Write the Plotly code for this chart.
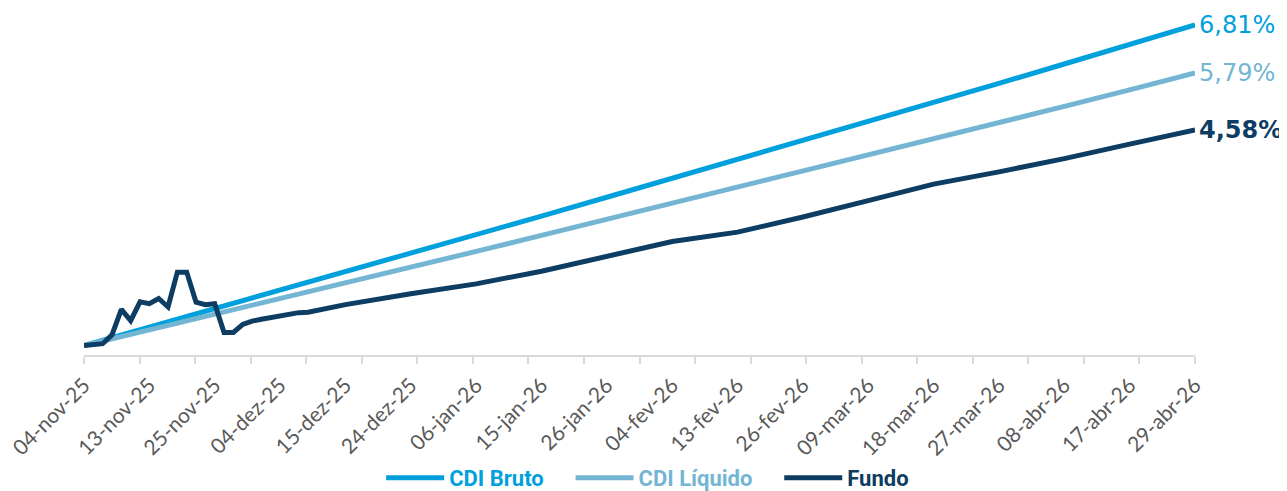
import pandas as pd
import plotly.graph_objects as go

# ---------------- data ----------------
holidays = ["2025-11-20", "2025-12-25", "2026-01-01", "2026-02-16",
            "2026-02-17", "2026-04-03", "2026-04-21"]
business_days = [d.strftime("%Y-%m-%d") for d in
                 pd.bdate_range("2025-11-04", "2026-04-29", freq="C", holidays=holidays)]

label_dates = ["2025-11-04", "2025-11-13", "2025-11-25", "2025-12-04", "2025-12-15",
               "2025-12-24", "2026-01-06", "2026-01-15", "2026-01-26", "2026-02-04",
               "2026-02-13", "2026-02-26", "2026-03-09", "2026-03-18", "2026-03-27",
               "2026-04-08", "2026-04-17", "2026-04-29"]
label_text = ["04-nov-25", "13-nov-25", "25-nov-25", "04-dez-25", "15-dez-25",
              "24-dez-25", "06-jan-26", "15-jan-26", "26-jan-26", "04-fev-26",
              "13-fev-26", "26-fev-26", "09-mar-26", "18-mar-26", "27-mar-26",
              "08-abr-26", "17-abr-26", "29-abr-26"]

cdi_bruto = [0.00, 0.39, 0.78, 1.17, 1.56, 1.96, 2.35, 2.75, 3.15, 3.55,
             3.95, 4.35, 4.76, 5.17, 5.57, 5.98, 6.39, 6.81]
cdi_liquido = [0.00, 0.33, 0.66, 0.99, 1.33, 1.66, 2.00, 2.34, 2.68, 3.02,
               3.36, 3.70, 4.04, 4.39, 4.74, 5.08, 5.43, 5.79]

fundo_dates = ["2025-11-04", "2025-11-05", "2025-11-06", "2025-11-07", "2025-11-10",
               "2025-11-11", "2025-11-12", "2025-11-13", "2025-11-14", "2025-11-17",
               "2025-11-18", "2025-11-19", "2025-11-21", "2025-11-24", "2025-11-25",
               "2025-11-26", "2025-11-27", "2025-11-28", "2025-12-01", "2025-12-02",
               "2025-12-03", "2025-12-04", "2025-12-05", "2025-12-08", "2025-12-09",
               "2025-12-15", "2025-12-24", "2026-01-06", "2026-01-15", "2026-01-26",
               "2026-02-04", "2026-02-13", "2026-02-26", "2026-03-09", "2026-03-18",
               "2026-03-27", "2026-04-08", "2026-04-17", "2026-04-29"]
fundo = [0.00, 0.02, 0.04, 0.23, 0.77, 0.53, 0.93, 0.89, 1.00, 0.82,
         1.56, 1.56, 0.92, 0.87, 0.89, 0.28, 0.28, 0.45, 0.52, 0.56,
         0.60, 0.63, 0.67, 0.70, 0.71, 0.87, 1.10, 1.31, 1.58, 1.89,
         2.21, 2.41, 2.73, 3.08, 3.43, 3.69, 3.97, 4.28, 4.58]

end_labels = ["6,81%", "5,79%", "4,58%"]

# ---------------- style ----------------
C_BRUTO = "#00a0dc"
C_LIQ = "#73b5d3"
C_FUNDO = "#0d3d62"
AXIS_GRAY = "#d9d9d9"
PAD = "&nbsp;" * 4

fig = go.Figure()
series = [
    ("CDI Bruto", label_dates, cdi_bruto, C_BRUTO, PAD),
    ("CDI Líquido", label_dates, cdi_liquido, C_LIQ, PAD),
    ("Fundo", fundo_dates, fundo, C_FUNDO, ""),
]
for name, xs, ys, col, pad in series:
    fig.add_trace(go.Scatter(
        x=xs, y=ys, mode="lines",
        name=f"<b><span style='color:{col}'>{name}</span></b>{pad}",
        line=dict(color=col, width=5),
        hoverinfo="x+y",
    ))

# end-of-line value labels
for (name, xs, ys, col, _), txt, bold in zip(series, end_labels, [False, False, True]):
    fig.add_annotation(
        x=xs[-1], y=ys[-1], xref="x", yref="y",
        text=f"<b>{txt}</b>" if bold else txt,
        showarrow=False, xanchor="left", yanchor="middle", xshift=2,
        font=dict(family="DejaVu Sans", size=24, color=col),
    )

n = len(business_days)
# page body has an 8px margin: plot area placed to land at x 84..1195, y 16..355
fig.update_layout(
    width=1287, height=491,
    margin=dict(l=76, r=100, t=8, b=144, autoexpand=False),
    paper_bgcolor="white", plot_bgcolor="white",
    showlegend=True,
    legend=dict(
        orientation="h", xref="container", yref="container",
        x=0.497, xanchor="center", y=-0.006, yanchor="bottom",
        font=dict(family="Roboto", size=22),
        itemwidth=58, tracegroupgap=0,
    ),
    xaxis=dict(
        type="category", categoryorder="array", categoryarray=business_days,
        range=[0, n - 1], automargin=False,
        tickmode="array", tickvals=label_dates, ticktext=label_text,
        tickangle=-45, ticks="", showline=False, showgrid=False, zeroline=False,
        tickfont=dict(family="Lato", size=21, color="#595959"),
        ticklabelstandoff=13,
    ),
    xaxis2=dict(
        overlaying="x", anchor="y", side="bottom", automargin=False,
        range=[0, n - 1], tickmode="linear", tick0=0, dtick=(n - 1) / 20,
        ticks="outside", ticklen=7, tickwidth=1.5, tickcolor=AXIS_GRAY,
        showticklabels=False, showline=True, linecolor=AXIS_GRAY, linewidth=2,
        showgrid=False, zeroline=False,
    ),
    yaxis=dict(visible=False, range=[-0.2, 7.0], showgrid=False, zeroline=False,
               automargin=False),
)
# invisible trace to activate xaxis2 (tick marks)
fig.add_trace(go.Scatter(x=[0, n - 1], y=[None, None], xaxis="x2", yaxis="y",
                         showlegend=False, hoverinfo="skip"))

fig.write_html("out.html")
